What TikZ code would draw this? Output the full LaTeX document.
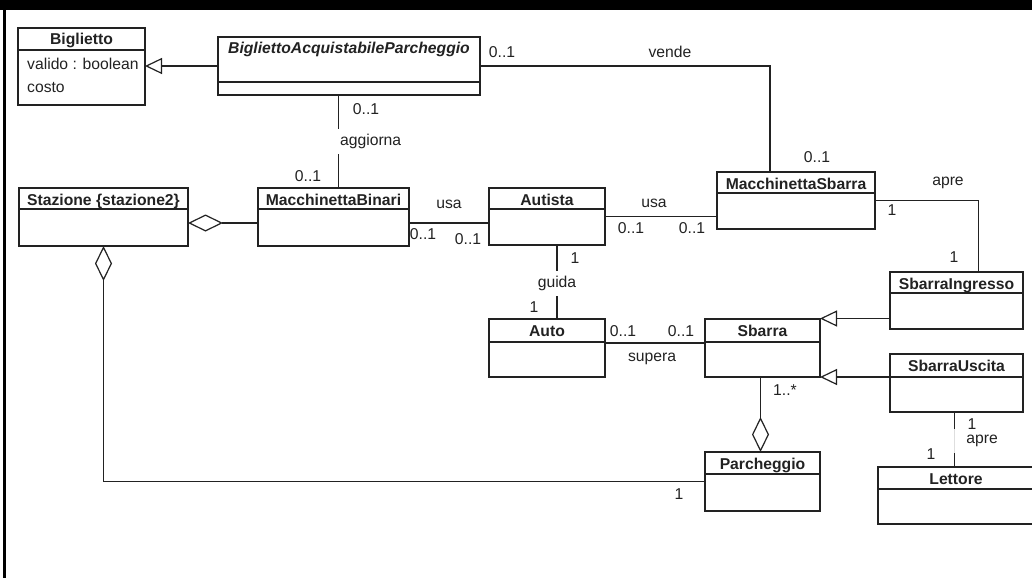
\documentclass[tikz,border=0pt]{standalone}
\usepackage{fontspec}
\setmainfont{Liberation Sans}
\usetikzlibrary{arrows.meta,fit}
\definecolor{ink}{HTML}{222222}

% class box: name, x1, y1, x2, y2, header line, title
\newcommand{\umlclass}[7]{%
  \coordinate (#1-nw) at (#2,#3);
  \coordinate (#1-se) at (#4,#5);
  \node[classbox,fit=(#1-nw)(#1-se)] (#1) {};
  \draw[classline] (#2,#6) -- (#4,#6);
  \node[classname] (#1-name) at ({(#2+#4)/2},{#3+17}) {#7};
}

\begin{document}
\begin{tikzpicture}[x=1pt,y=-1pt,font=\fontsize{15.7}{18}\selectfont,
  classbox/.style={draw=ink,line width=1.3pt,inner sep=0pt,outer sep=0pt},
  classline/.style={ink,line width=1.3pt},
  classname/.style={font=\fontsize{15.7}{18}\selectfont\bfseries,text=ink,anchor=base,inner sep=0pt},
  assoc/.style={ink,line width=1.2pt},
  gen/.style={assoc,-{Triangle[open,length=17pt,width=16pt]}},
  aggr/.style={assoc,-{Diamond[open,length=35pt,width=17pt]}},
  mult/.style={text=ink,inner sep=0pt}]
\useasboundingbox (0,0) rectangle (1032,578);
\fill[black] (0,0) rectangle (1032,10);
\draw[black,line width=2.7pt] (4.7,10) -- (4.7,578);

% classes
\umlclass{bigl}{18}{28}{145}{105}{50}{Biglietto}
\node[mult,anchor=base west] (bigl-a1) at (27,70) {valido : boolean};
\node[mult,anchor=base west] (bigl-a2) at (27,92) {costo};
\umlclass{bap}{218}{37}{480}{95}{82}{\itshape BigliettoAcquistabileParcheggio}
\umlclass{stz}{19}{188}{188}{246}{209}{Stazione \{stazione2\}}
\umlclass{mb}{258}{188}{409}{246}{209}{MacchinettaBinari}
\umlclass{aut}{489}{188}{605}{245}{209}{Autista}
\umlclass{ms}{717}{172}{875}{229}{193}{MacchinettaSbarra}
\umlclass{si}{890}{272}{1023}{329}{293}{SbarraIngresso}
\umlclass{auto}{489}{319}{605}{377}{342}{Auto}
\umlclass{sb}{705}{319}{820}{377}{342}{Sbarra}
\umlclass{su}{890}{354}{1023}{412}{377}{SbarraUscita}
\umlclass{pk}{705}{452}{820}{511}{474}{Parcheggio}
\umlclass{lt}{878}{467}{1034}{524}{489}{Lettore}

% connectors
\draw[gen] (bap.west) -- (bap.west -| bigl.east);
\draw[assoc] (bap.east) -| ([xshift=53pt]ms.north west);
\draw[assoc] ([xshift=5pt]mb.north) -- ([xshift=5pt]mb.north |- bap.south);
\draw[aggr] ([yshift=-6pt]mb.west) -- ([yshift=-6pt]mb.west -| stz.east);
\draw[assoc] ([yshift=-6pt]mb.east) -- ([yshift=-6pt]mb.east -| aut.west);
\draw[assoc] (aut.east) -- (aut.east -| ms.west);
\draw[assoc] ([xshift=10pt]aut.south) -- ([xshift=10pt]aut.south |- auto.north);
\draw[assoc] ([yshift=5pt]auto.east) -- ([yshift=5pt]auto.east -| sb.west);
\draw[assoc] (ms.east) -| ([xshift=22pt]si.north);
\draw[gen] ([yshift=-18pt]si.west) -- ([yshift=-18pt]si.west -| sb.east);
\draw[gen] ([yshift=6pt]su.west) -- ([yshift=6pt]su.west -| sb.east);
\draw[aggr] ([xshift=-2pt]sb.south) -- ([xshift=-2pt]pk.north);
\draw[aggr] (pk.west) -| (stz.south);
\draw[assoc] ([xshift=-2pt]su.south) -- ([xshift=-2pt]su.south |- lt.north);

% association names and multiplicities
\node[mult] (vende-a) at (502,52) {0..1};
\node[mult] (vende-l) at (670,52) {vende};
\node[mult] (vende-b) at (817,157) {0..1};
\node[mult] (aggiorna-a) at (366,109) {0..1};
\node[mult,anchor=west,fill=white,text width=64pt,align=right,inner xsep=1pt,minimum height=25pt] (aggiorna-l) at (336,141) {aggiorna};
\node[mult] (aggiorna-b) at (308,176) {0..1};
\node[mult] (usa1-l) at (449,204) {usa};
\node[mult] (usa1-a) at (423,234) {0..1};
\node[mult] (usa1-b) at (468,239) {0..1};
\node[mult] (usa2-l) at (654,203) {usa};
\node[mult] (usa2-a) at (631,228) {0..1};
\node[mult] (usa2-b) at (692,228) {0..1};
\node[mult,fill=white,inner xsep=2pt,minimum height=25pt] (guida-l) at (557,283) {guida};
\node[mult] (guida-a) at (575,258) {1};
\node[mult] (guida-b) at (534,307) {1};
\node[mult] (supera-a) at (623,331) {0..1};
\node[mult] (supera-b) at (681,331) {0..1};
\node[mult] (supera-l) at (652,359) {supera};
\node[mult] (apre1-l) at (948,183) {apre};
\node[mult] (apre1-a) at (892,210) {1};
\node[mult] (apre1-b) at (954,257) {1};
\node[mult] (parch-a) at (785,390) {1..*};
\node[mult] (parch-b) at (679,494) {1};
\node[mult,anchor=east,fill=white,fill opacity=.85,text opacity=1,text width=44pt,align=right,inner xsep=2pt,minimum height=24pt] (apre2-l) at (1000,441) {apre};
\node[mult] (apre2-a) at (972,424) {1};
\node[mult] (apre2-b) at (931,454) {1};
\end{tikzpicture}
\end{document}
